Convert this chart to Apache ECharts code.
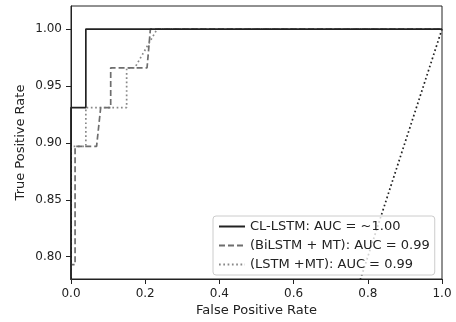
<!DOCTYPE html>
<html><head><meta charset="utf-8">
<script src="https://cdn.jsdelivr.net/npm/echarts@6/dist/echarts.min.js"></script>
<style>html,body{margin:0;padding:0;background:#fff}#c{width:456px;height:322px}</style>
</head><body><div id="c"></div>
<script>
var xTicks = [0.0, 0.2, 0.4, 0.6, 0.8, 1.0];
var yTicks = [0.80, 0.85, 0.90, 0.95, 1.00];
var seriesNames = ['CL-LSTM: AUC = ~1.00', '(BiLSTM + MT): AUC = 0.99', '(LSTM +MT): AUC = 0.99'];
var clFpr = [0, 0, 0.04, 0.04, 1];
var clTpr = [0, 0.931, 0.931, 1, 1];
var biFpr = [0, 0, 0.011, 0.011, 0.069, 0.080, 0.107, 0.107, 0.205, 0.214, 1];
var biTpr = [0, 0.793, 0.793, 0.897, 0.897, 0.931, 0.931, 0.966, 0.966, 1, 1];
var lsFpr = [0, 0, 0.04, 0.04, 0.150, 0.150, 0.172, 0.232, 1];
var lsTpr = [0, 0.897, 0.897, 0.931, 0.931, 0.966, 0.966, 1, 1];
var chanceFpr = [0, 1];
var chanceTpr = [0, 1];

function pairs(xs, ys){ return xs.map(function(x,i){return [x, ys[i]];}); }
var font = 'DejaVu Sans';
var chart = echarts.init(document.getElementById('c'), null, {renderer:'canvas'});
chart.setOption({
  animation: false,
  backgroundColor: '#fff',
  grid: {left: 71, right: 14, top: 6, bottom: 40, show: true, borderColor: '#222', borderWidth: 1, backgroundColor: 'transparent'},
  xAxis: {
    type: 'value', min: 0, max: 1, interval: 0.2,
    name: 'False Positive Rate', nameLocation: 'middle', nameGap: 25, nameMoveOverlap: false,
    nameTextStyle: {fontFamily: font, fontSize: 13, color: '#222'},
    axisLine: {show: true, lineStyle: {color: '#222'}},
    axisTick: {show: true, length: 5, lineStyle: {color: '#222'}},
    axisLabel: {fontFamily: font, fontSize: 12, color: '#222', margin: 9,
      formatter: function(v){ return v.toFixed(1); }},
    splitLine: {show: false}
  },
  yAxis: {
    type: 'value', min: 0.7804, max: 1.0203,
    name: 'True Positive Rate', nameLocation: 'middle', nameGap: 44, nameMoveOverlap: false,
    nameTextStyle: {fontFamily: font, fontSize: 13, color: '#222'},
    axisLine: {show: true, lineStyle: {color: '#222'}},
    axisTick: {show: true, length: 5, lineStyle: {color: '#222'},
      customValues: yTicks},
    axisLabel: {fontFamily: font, fontSize: 12, color: '#222', margin: 9,
      customValues: yTicks,
      formatter: function(v){ return v.toFixed(2); }},
    splitLine: {show: false}
  },
  legend: {
    data: seriesNames,
    orient: 'vertical', left: 213, top: 216,
    itemWidth: 26, itemHeight: 10, itemGap: 6,
    padding: [4, 5, 4, 5],
    borderColor: '#ccc', borderWidth: 1, borderRadius: 3,
    backgroundColor: 'rgba(255,255,255,0.8)',
    itemStyle: {opacity: 0},
    textStyle: {fontFamily: font, fontSize: 13, color: '#222'}
  },
  series: [
    {name: seriesNames[0], type: 'line', data: pairs(clFpr, clTpr), symbol: 'none', clip: true,
     lineStyle: {color: '#222', width: 1.7, type: 'solid'}, itemStyle: {color: '#222'}, z: 5},
    {name: seriesNames[1], type: 'line', data: pairs(biFpr, biTpr), symbol: 'none', clip: true,
     lineStyle: {color: '#6e6e6e', width: 1.7, type: [6, 3]}, itemStyle: {color: '#6e6e6e'}, z: 4},
    {name: seriesNames[2], type: 'line', data: pairs(lsFpr, lsTpr), symbol: 'none', clip: true,
     lineStyle: {color: '#888', width: 1.7, type: [1.7, 2.6]}, itemStyle: {color: '#888'}, z: 3},
    {name: 'chance', type: 'line', data: pairs(chanceFpr, chanceTpr), symbol: 'none', clip: true,
     lineStyle: {color: '#222', width: 1.7, type: [1.7, 2.6]}, z: 2}
  ]
});
</script></body></html>
